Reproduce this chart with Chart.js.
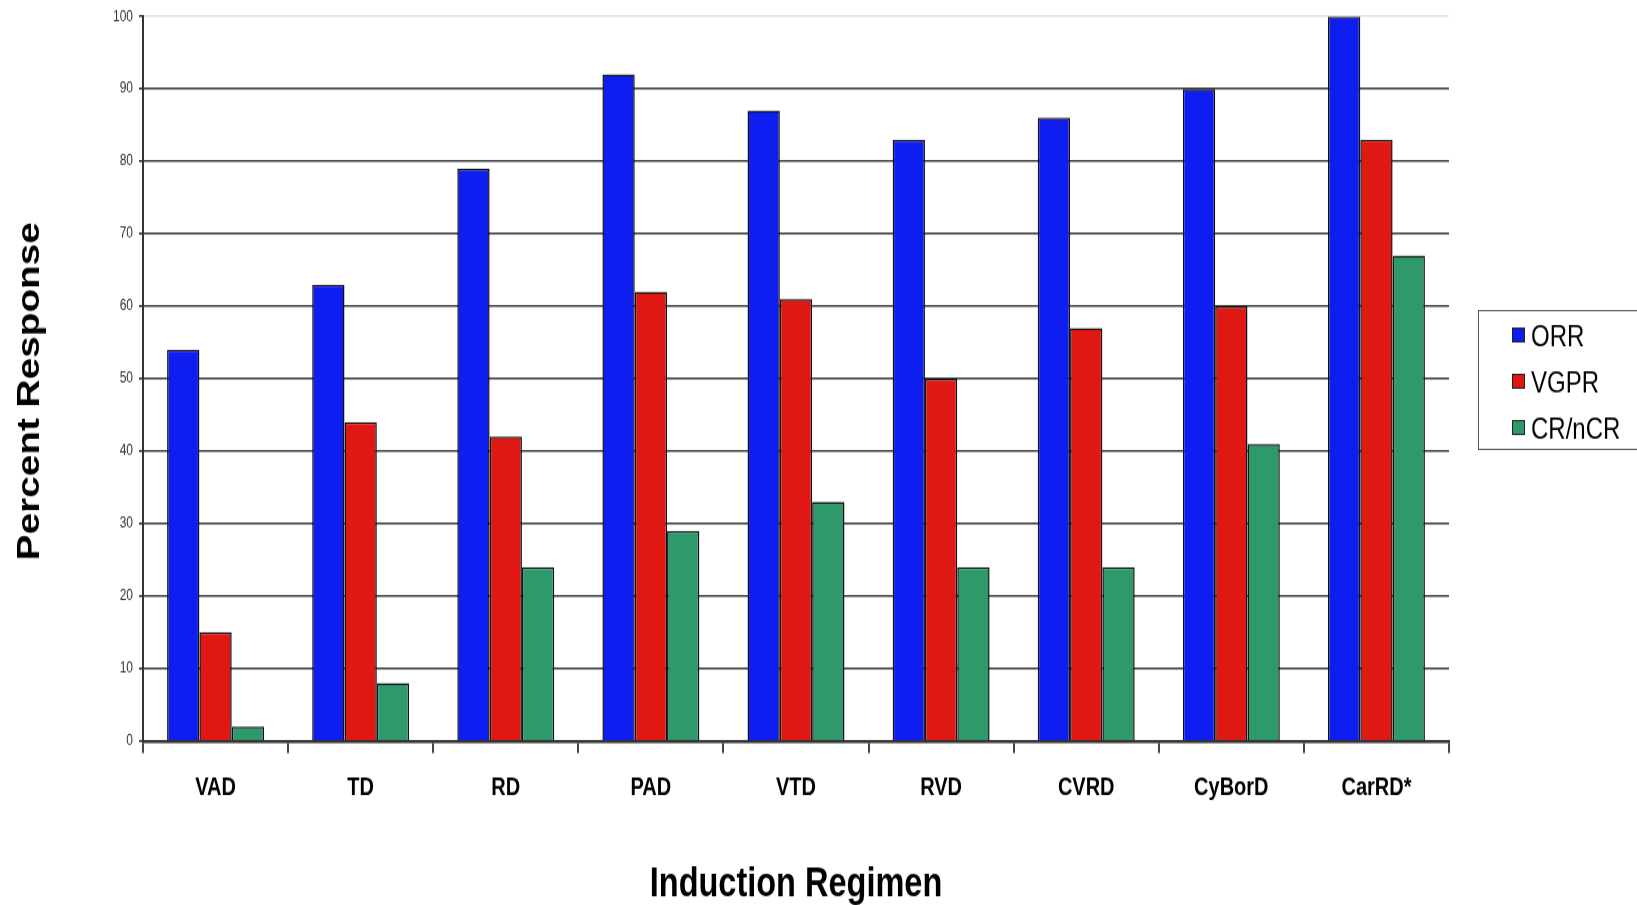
<!DOCTYPE html>
<html>
<head>
<meta charset="utf-8">
<script src="https://cdn.jsdelivr.net/npm/chart.js@4"></script>
<style>
  html, body { margin: 0; padding: 0; background: #fff; overflow: hidden; }
</style>
</head>
<body>
<!-- the drawing surface is 1637x724 and is shown 1.25x taller -->
<canvas id="chart" width="1637" height="724" style="display:block;width:1637px;height:905px"></canvas>
<script>
// Induction regimens and response rates (%)
const regimens = ['VAD', 'TD', 'RD', 'PAD', 'VTD', 'RVD', 'CVRD', 'CyBorD', 'CarRD*'];
const orr      = [54, 63, 79, 92, 87, 83, 86, 90, 100];
const vgpr     = [15, 44, 42, 62, 61, 50, 57, 60, 83];
const crNcr    = [2, 8, 24, 29, 33, 24, 24, 41, 67];

const seriesNames  = ['ORR', 'VGPR', 'CR/nCR'];
const seriesColors = ['#0f1ef0', '#e01813', '#2e9a6c'];

const yMin = 0, yMax = 100, yStep = 10;
const yTitle = 'Percent Response';
const xTitle = 'Induction Regimen';

const FONT = "'Liberation Sans', Arial, Helvetica, sans-serif";

// Rotated y-axis title, placed a little below the plot's middle
const yTitlePlugin = {
  id: 'yTitle',
  afterDraw(chart) {
    const ctx = chart.ctx;
    ctx.save();
    ctx.translate(30, 313);
    ctx.rotate(-Math.PI / 2);
    ctx.font = 'bold 31px ' + FONT;
    ctx.fillStyle = '#000';
    ctx.textAlign = 'center';
    ctx.textBaseline = 'middle';
    ctx.fillText(yTitle, 0, 0);
    ctx.restore();
  }
};

// Boxed legend at the right edge
const boxedLegend = {
  id: 'boxedLegend',
  afterDraw(chart) {
    const ctx = chart.ctx;
    ctx.save();
    ctx.strokeStyle = '#555';
    ctx.lineWidth = 1;
    ctx.strokeRect(1478.5, 248.5, 200, 111);
    ctx.font = '24px ' + FONT;
    ctx.textAlign = 'left';
    ctx.textBaseline = 'middle';
    chart.data.datasets.forEach((ds, i) => {
      const cy = 268 + i * 37;
      ctx.fillStyle = ds.backgroundColor;
      ctx.fillRect(1512, cy - 6, 13, 12);
      ctx.strokeStyle = '#222';
      ctx.lineWidth = 1;
      ctx.strokeRect(1512.5, cy - 5.5, 12, 11);
      ctx.fillStyle = '#000';
      ctx.fillText(ds.label, 1531, cy + 2.5);
    });
    ctx.restore();
  }
};

const values = [orr, vgpr, crNcr];

new Chart(document.getElementById('chart'), {
  type: 'bar',
  data: {
    labels: regimens,
    datasets: seriesNames.map((name, i) => ({
      label: name,
      data: values[i],
      backgroundColor: seriesColors[i],
      borderColor: '#111',
      borderWidth: 1.5,
      categoryPercentage: 0.668,
      barPercentage: 1.0
    }))
  },
  options: {
    responsive: false,
    animation: false,
    devicePixelRatio: 1,
    layout: { padding: { left: 0, top: 11.6, right: 188, bottom: 0 } },
    plugins: {
      legend: { display: false },
      tooltip: { enabled: false },
      title: { display: false }
    },
    scales: {
      x: {
        offset: true,
        grid: {
          display: true,
          offset: true,
          drawOnChartArea: false,
          drawTicks: true,
          tickLength: 9.6,
          color: '#444',
          lineWidth: 2
        },
        border: { display: true, color: '#333', width: 2.4 },
        ticks: {
          color: '#000',
          padding: 15.6,
          maxRotation: 0,
          autoSkip: false,
          font: { family: FONT, size: 20, weight: 'bold', lineHeight: 1.2 }
        },
        title: {
          display: true,
          text: xTitle,
          color: '#000',
          padding: { top: 0, bottom: 0 },
          font: { family: FONT, size: 32.5, weight: 'bold', lineHeight: 1 }
        },
        afterFit(scale) { scale.height = 131.2; }
      },
      y: {
        min: yMin,
        max: yMax,
        ticks: {
          stepSize: yStep,
          color: '#333',
          padding: 6,
          font: { family: FONT, size: 12 }
        },
        grid: {
          drawTicks: true,
          tickLength: 4,
          tickColor: '#333',
          lineWidth: 1.6,
          color: (c) => (c.tick && c.tick.value === yMax ? '#e2e2e2' : '#3a3a3a')
        },
        border: { display: true, color: '#333', width: 2 },
        afterFit(scale) { scale.width = 143; }
      }
    }
  },
  plugins: [yTitlePlugin, boxedLegend]
});
</script>
</body>
</html>
